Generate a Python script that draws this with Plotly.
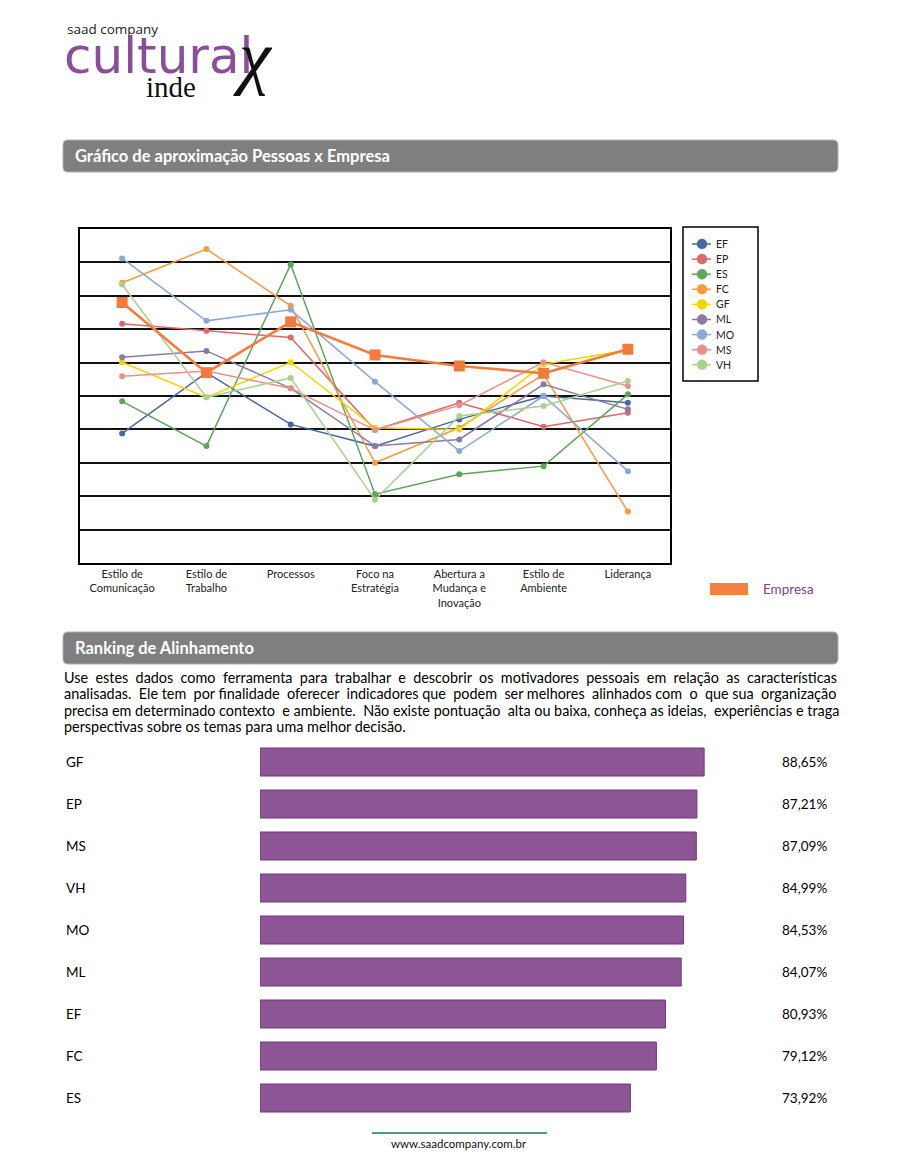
import plotly.graph_objects as go

W, H = 900, 1165
OX, OY = 8, 8  # page body margin offset
def px(x): return (x - OX) / W
def py(y): return 1 - (y - OY) / H

# ---------------- data ----------------
categories = ["Estilo de<br>Comunicação", "Estilo de<br>Trabalho", "Processos",
              "Foco na<br>Estratégia", "Abertura a<br>Mudança e<br>Inovação",
              "Estilo de<br>Ambiente", "Liderança"]

series_names = ["EF", "EP", "ES", "FC", "GF", "ML", "MO", "MS", "VH"]
EF = [3.88, 5.70, 4.15, 3.50, 4.30, 5.00, 4.80]
EP = [7.16, 6.95, 6.75, 3.98, 4.80, 4.08, 4.50]
ES = [4.84, 3.50, 8.94, 2.06, 2.66, 2.90, 5.05]
FC = [8.39, 9.40, 7.70, 3.00, 4.05, 5.65, 1.54]
GF = [6.01, 4.96, 6.01, 4.05, 4.00, 5.95, 6.38]
ML = [6.16, 6.35, 5.23, 3.50, 3.70, 5.35, 4.60]
MO = [9.12, 7.25, 7.58, 5.43, 3.35, 5.00, 2.75]
MS = [5.59, 5.75, 5.23, 3.98, 4.72, 6.01, 5.30]
VH = [8.34, 4.96, 5.54, 1.89, 4.40, 4.70, 5.45]
Empresa = [7.80, 5.70, 7.22, 6.23, 5.90, 5.68, 6.40]
series_values = [EF, EP, ES, FC, GF, ML, MO, MS, VH]

ranking_names = ["GF", "EP", "MS", "VH", "MO", "ML", "EF", "FC", "ES"]
ranking_values = [88.65, 87.21, 87.09, 84.99, 84.53, 84.07, 80.93, 79.12, 73.92]

series_colors = ["#4A67A1", "#D9696B", "#5EA45A", "#F79A3E", "#F2D600",
                 "#8A78A6", "#8DA8D6", "#E8918B", "#A9D18E"]
empresa_color = "#F47B3B"
bar_color = "#8E5596"
purple_text = "#7B3F8C"

TEXT_FONT = "Lato"

fig = go.Figure()

xs = list(range(len(categories)))
for name, vals, col in zip(series_names, series_values, series_colors):
    fig.add_trace(go.Scatter(
        x=xs, y=vals, name=name, mode="lines+markers",
        line=dict(color=col, width=1.5),
        marker=dict(color=col, size=6, symbol="circle"),
        showlegend=False, xaxis="x", yaxis="y", hoverinfo="skip"))

fig.add_trace(go.Scatter(
    x=xs, y=Empresa, name="Empresa", mode="lines+markers",
    line=dict(color=empresa_color, width=2.5),
    marker=dict(color=empresa_color, size=11, symbol="square"),
    showlegend=False, xaxis="x", yaxis="y", hoverinfo="skip"))

fig.add_trace(go.Bar(
    x=ranking_values, y=ranking_names, orientation="h",
    marker=dict(color=bar_color, line=dict(color="#6E3A78", width=1)),
    showlegend=False, xaxis="x2", yaxis="y2", hoverinfo="skip"))

annotations = []
shapes = []

def rounded_rect(x0, y0, x1, y1, r, fill, line):
    X0, X1 = px(x0), px(x1)
    Y0, Y1 = py(y0), py(y1)
    rx, ry = r / W, r / H
    path = (f"M {X0+rx},{Y0} L {X1-rx},{Y0} Q {X1},{Y0} {X1},{Y0-ry} "
            f"L {X1},{Y1+ry} Q {X1},{Y1} {X1-rx},{Y1} L {X0+rx},{Y1} "
            f"Q {X0},{Y1} {X0},{Y1+ry} L {X0},{Y0-ry} Q {X0},{Y0} {X0+rx},{Y0} Z")
    return dict(type="path", xref="paper", yref="paper", path=path,
                fillcolor=fill, line=dict(color=line, width=1), layer="below")

# header bars
shapes.append(rounded_rect(63, 140, 838, 172, 5, "#7F7F7F", "#B0B0B0"))
shapes.append(rounded_rect(63, 632, 838, 664, 5, "#7F7F7F", "#B0B0B0"))
annotations.append(dict(x=px(73), y=py(156), xref="paper", yref="paper",
                        text="<b>Gráfico de aproximação Pessoas x Empresa</b>",
                        showarrow=False, xanchor="left", yanchor="middle",
                        font=dict(family=TEXT_FONT, size=16.5, color="white")))
annotations.append(dict(x=px(73), y=py(648), xref="paper", yref="paper",
                        text="<b>Ranking de Alinhamento</b>",
                        showarrow=False, xanchor="left", yanchor="middle",
                        font=dict(family=TEXT_FONT, size=16.5, color="white")))

# logo
annotations.append(dict(x=px(65), y=py(40), xref="paper", yref="paper",
                        text="saad company", showarrow=False, xanchor="left", yanchor="bottom",
                        font=dict(family="Open Sans", size=13.5, color="#222222")))
annotations.append(dict(x=px(62), y=py(56), xref="paper", yref="paper",
                        text="cultural", showarrow=False, xanchor="left", yanchor="middle",
                        font=dict(family="DejaVu Sans", size=50, color="#8B4F9A")))
annotations.append(dict(x=px(144), y=py(87), xref="paper", yref="paper",
                        text="inde", showarrow=False, xanchor="left", yanchor="middle",
                        font=dict(family="Liberation Serif", size=29, color="#111111")))
annotations.append(dict(x=px(231), y=py(57), xref="paper", yref="paper",
                        text="<i>χ</i>", showarrow=False, xanchor="left", yanchor="middle",
                        font=dict(family="Liberation Serif", size=72, color="#111111")))

# series legend (box, swatches, names)
leg_x0, leg_x1, leg_y0, leg_y1 = 683, 758, 227, 381
shapes.append(dict(type="rect", xref="paper", yref="paper",
                   x0=px(leg_x0), x1=px(leg_x1), y0=py(leg_y0), y1=py(leg_y1),
                   fillcolor="white", line=dict(color="#000000", width=1.5)))
for i, (name, col) in enumerate(zip(series_names, series_colors)):
    yc = 244 + i * 15.1
    shapes.append(dict(type="line", xref="paper", yref="paper",
                       x0=px(692), x1=px(711), y0=py(yc), y1=py(yc),
                       line=dict(color=col, width=1.5)))
    shapes.append(dict(type="circle", xref="paper", yref="paper",
                       x0=px(697), x1=px(707), y0=py(yc + 5), y1=py(yc - 5),
                       fillcolor=col, line=dict(color=col, width=0.5)))
    annotations.append(dict(x=px(714), y=py(yc), xref="paper", yref="paper",
                            text=name, showarrow=False, xanchor="left", yanchor="middle",
                            font=dict(family=TEXT_FONT, size=10.5, color="#222222")))

# Empresa legend
shapes.append(dict(type="rect", xref="paper", yref="paper",
                   x0=px(710), x1=px(748), y0=py(583), y1=py(595),
                   fillcolor="#F4813F", line=dict(width=0)))
annotations.append(dict(x=px(761), y=py(589), xref="paper", yref="paper",
                        text="Empresa", showarrow=False, xanchor="left", yanchor="middle",
                        font=dict(family=TEXT_FONT, size=13.5, color=purple_text)))

# paragraph (approximate justification with extra non-breaking spaces)
para_lines = [
    "Use estes dados como ferramenta para trabalhar e descobrir os motivadores pessoais em relação as características",
    "analisadas. Ele tem por finalidade oferecer indicadores que podem ser melhores alinhados com o que sua organização",
    "precisa em determinado contexto e ambiente.  Não existe pontuação alta ou baixa, conheça as ideias, experiências e traga",
    "perspectivas sobre os temas para uma melhor decisão.",
]
extra_spaces = [15, 10, 3, 0]

def justify(line, n_extra):
    words = line.split(" ")
    gaps = len(words) - 1
    counts = [0] * gaps
    for k in range(n_extra):
        counts[int((k + 0.5) * gaps / max(n_extra, 1)) % gaps] += 1
    out = words[0]
    for g in range(gaps):
        w = words[g + 1]
        out += " " + "\u00a0" * counts[g] + w if w else "\u00a0"
    return out

for i, ln in enumerate(para_lines):
    annotations.append(dict(x=px(62), y=py(677 + i * 16.5), xref="paper", yref="paper",
                            text=justify(ln, extra_spaces[i]), showarrow=False,
                            xanchor="left", yanchor="middle",
                            font=dict(family=TEXT_FONT, size=14.4, color="#000000")))

# ranking labels
for name, val in zip(ranking_names, ranking_values):
    annotations.append(dict(x=px(64), y=name, xref="paper", yref="y2",
                            text=name, showarrow=False, xanchor="left", yanchor="middle",
                            font=dict(family=TEXT_FONT, size=13.5, color="#000000")))
    annotations.append(dict(x=px(829), y=name, xref="paper", yref="y2",
                            text=f"{val:.2f}%".replace(".", ","), showarrow=False,
                            xanchor="right", yanchor="middle",
                            font=dict(family=TEXT_FONT, size=13.5, color="#000000")))

# footer
shapes.append(dict(type="line", xref="paper", yref="paper",
                   x0=px(372), x1=px(547), y0=py(1133), y1=py(1133),
                   line=dict(color="#4D9A90", width=2)))
annotations.append(dict(x=px(459), y=py(1143), xref="paper", yref="paper",
                        text="www.saadcompany.com.br", showarrow=False,
                        xanchor="center", yanchor="middle",
                        font=dict(family=TEXT_FONT, size=11.5, color="#111111")))

bar_scale = 5.01  # px per percent
fig.update_layout(
    width=W, height=H,
    margin=dict(l=0, r=0, t=0, b=0),
    paper_bgcolor="white", plot_bgcolor="white",
    showlegend=False,
    xaxis=dict(domain=[px(80), px(670)], range=[-0.5, 6.5],
               tickmode="array", tickvals=xs, ticktext=categories,
               showgrid=False, zeroline=False, showline=True, mirror=True,
               linecolor="#000000", linewidth=1.5, ticks="",
               tickfont=dict(family=TEXT_FONT, size=11, color="#222222"),
               fixedrange=True),
    yaxis=dict(domain=[py(563), py(229)], range=[0, 10], dtick=1,
               showgrid=True, gridcolor="#111111", gridwidth=2,
               showticklabels=False, zeroline=False, showline=True, mirror=True,
               linecolor="#000000", linewidth=1.5, ticks="", fixedrange=True),
    xaxis2=dict(domain=[px(260), px(260 + 100 * bar_scale)], range=[0, 100],
                anchor="y2", visible=False, fixedrange=True),
    yaxis2=dict(domain=[py(741 + 9 * 42), py(741)], anchor="x2",
                categoryorder="array", categoryarray=ranking_names,
                autorange="reversed", visible=False, fixedrange=True),
    bargap=1 - 28 / 42,
    shapes=shapes,
    annotations=annotations,
    hovermode=False,
)

fig.write_html("out.html")
